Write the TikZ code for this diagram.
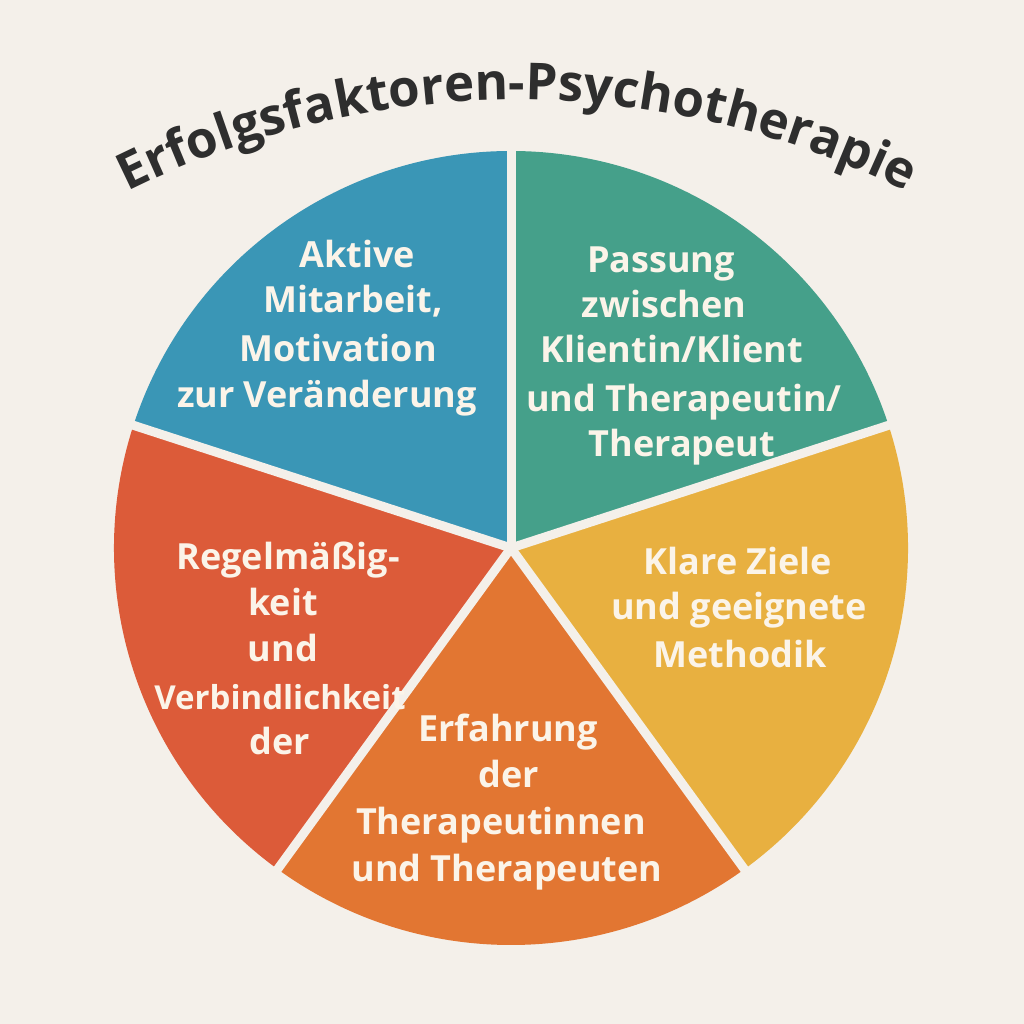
\documentclass[tikz,border=0pt]{standalone}
\usepackage{fontspec}
\setmainfont{Open Sans}
\usetikzlibrary{decorations.text}
\definecolor{bg}{HTML}{F4F0EA}
\definecolor{cblue}{HTML}{3A96B6}
\definecolor{cgreen}{HTML}{45A08A}
\definecolor{cyellow}{HTML}{E8B040}
\definecolor{corange}{HTML}{E27632}
\definecolor{cred}{HTML}{DC5B39}
\definecolor{titlecol}{HTML}{2E2E2E}
\definecolor{txt}{HTML}{FBF4E9}
\newcommand{\titlefont}{\bfseries\fontsize{51}{51}\selectfont}
\begin{document}
\begin{tikzpicture}[x=1pt,y=1pt,
  lbl/.style={text=txt, font=\bfseries\fontsize{36}{36}\selectfont, anchor=base, inner sep=0pt},
  gapline/.style={draw=bg, line width=9pt}]
\useasboundingbox (0,0) rectangle (1024,1024);
\fill[bg] (0,0) rectangle (1024,1024);
\coordinate (C) at (511,476);
\def\R{397}
% sectors
\fill[cgreen]  (C) -- ++(18:\R)  arc[start angle=18,  end angle=90,  radius=\R] -- cycle;
\fill[cblue]   (C) -- ++(90:\R)  arc[start angle=90,  end angle=162, radius=\R] -- cycle;
\fill[cred]    (C) -- ++(162:\R) arc[start angle=162, end angle=234, radius=\R] -- cycle;
\fill[corange] (C) -- ++(234:\R) arc[start angle=234, end angle=306, radius=\R] -- cycle;
\fill[cyellow] (C) -- ++(306:\R) arc[start angle=306, end angle=378, radius=\R] -- cycle;
% gaps
\foreach \a in {18,90,162,234,306} \draw[gapline] (C) -- ++(\a:412);
% title along arc
\coordinate (TC) at (517,51);
\path[decorate, decoration={text along path, text align=center, text color=titlecol,
  text={|\titlefont|Erfolgsfaktoren-Psychotherapie}}]
  (TC) ++(116:873) arc[start angle=116, end angle=64, radius=873];
% blue
\node[lbl] (b1) at (357,756) {Aktive};
\node[lbl] (b2) at (353,711) {Mitarbeit,};
\node[lbl] (b3) at (338,662) {Motivation};
\node[lbl] (b4) at (327,616) {zur Veränderung};
% green
\node[lbl] (g1) at (661,751) {Passung};
\node[lbl] (g2) at (664,706) {zwischen};
\node[lbl] (g3) at (672,661) {Klientin/Klient};
\node[lbl] (g4) at (684,612) {und Therapeutin/};
\node[lbl] (g5) at (682,567) {Therapeut};
% yellow
\node[lbl] (y1) at (738,449) {Klare Ziele};
\node[lbl] (y2) at (739,404) {und geeignete};
\node[lbl] (y3) at (740,356) {Methodik};
% red
\node[lbl] (r1) at (288,454) {Regelmäßig-};
\node[lbl] (r2) at (283,408) {keit};
\node[lbl] (r3) at (283,362) {und};
\node[lbl, font=\bfseries\fontsize{33}{33}\selectfont] (r4) at (280,314) {Verbindlichkeit};
\node[lbl] (r5) at (280,269) {der};
% orange
\node[lbl] (o1) at (508,282) {Erfahrung};
\node[lbl] (o2) at (509,236) {der};
\node[lbl] (o3) at (501,189) {Therapeutinnen};
\node[lbl] (o4) at (507,142) {und Therapeuten};
\end{tikzpicture}
\end{document}
